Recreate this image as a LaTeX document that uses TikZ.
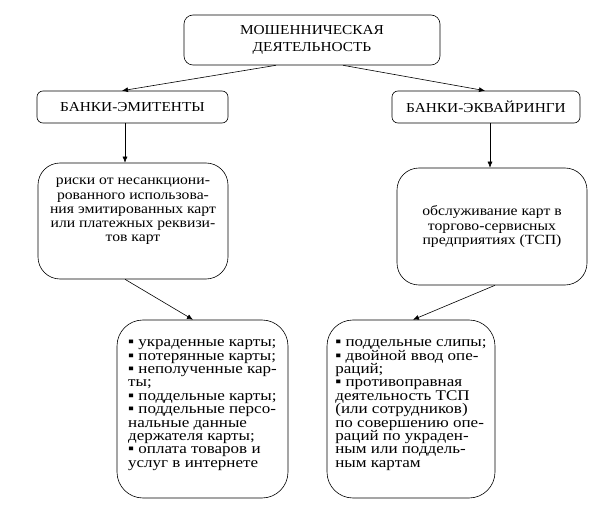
\documentclass[tikz,border=0pt]{standalone}
\usepackage{fontspec}
\setmainfont{Liberation Serif}
\newfontfamily\boxfont{Liberation Serif}[FakeStretch=1.12]
\newfontfamily\listfont{Liberation Serif}[FakeStretch=1.15]
\usetikzlibrary{arrows.meta}

\begin{document}
\begin{tikzpicture}[x=1pt,y=-1pt,
  box/.style={draw,rounded corners=6pt,line width=0.6pt,align=center,inner sep=0pt},
  headbox/.style={box,font=\boxfont\fontsize{13.7}{17.5}\selectfont},
  textbox/.style={box,rounded corners=22pt,minimum width=190pt,font=\boxfont\fontsize{14}{14.2}\selectfont},
  listbox/.style={box,rounded corners=26pt,align=left,minimum height=178pt,text depth=11pt,font=\listfont\fontsize{14.8}{13.4}\selectfont},
  arrow/.style={-{Latex[length=6pt,width=5pt]},line width=0.6pt}
]
  \useasboundingbox (0,0) rectangle (600,505);

  % top level
  \node[headbox,rounded corners=9pt,minimum width=256pt,minimum height=50pt] (fraud) at (312,40) {МОШЕННИЧЕСКАЯ\\ДЕЯТЕЛЬНОСТЬ};

  % banks
  \node[headbox,minimum width=191pt,minimum height=32pt] (issuer) at (132.5,107) {БАНКИ-ЭМИТЕНТЫ};
  \node[headbox,minimum width=188pt,minimum height=32pt] (acquirer) at (486,107) {БАНКИ-ЭКВАЙРИНГИ};

  % risks
  \node[textbox,minimum height=116pt,text depth=22pt] (risk) at (133,221) {риски от несанкциони-\\рованного использова-\\ния эмитированных карт\\или платежных реквизи-\\тов карт};
  \node[textbox,minimum height=117pt] (service) at (492,226.5) {обслуживание карт в\\торгово-сервисных\\предприятиях (ТСП)};

  % lists
  \node[listbox,minimum width=171pt] (cards) at (202.5,409) {▪ украденные карты;\\▪ потерянные карты;\\▪ неполученные кар-\\ты;\\▪ поддельные карты;\\▪ поддельные персо-\\нальные данные\\держателя карты;\\▪ оплата товаров и\\услуг в интернете};
  \node[listbox,minimum width=168pt] (slips) at (411,409) {▪ поддельные слипы;\\▪ двойной ввод опе-\\раций;\\▪ противоправная\\деятельность ТСП\\(или сотрудников)\\по совершению опе-\\раций по украден-\\ным или поддель-\\ным картам};

  \draw[arrow] ([xshift=-36pt]fraud.south) -- ([xshift=-10.5pt]issuer.north);
  \draw[arrow] ([xshift=31pt]fraud.south) -- ([xshift=-1pt]acquirer.north);
  \draw[arrow] ([xshift=-7.5pt]issuer.south) -- ([xshift=-8pt]risk.north);
  \draw[arrow] ([xshift=4pt]acquirer.south) -- ([xshift=-2pt]service.north);
  \draw[arrow] ([xshift=-8pt]risk.south) -- ([xshift=-9.5pt]cards.north);
  \draw[arrow] ([xshift=3pt]service.south) -- ([xshift=2pt]slips.north);
\end{tikzpicture}
\end{document}
